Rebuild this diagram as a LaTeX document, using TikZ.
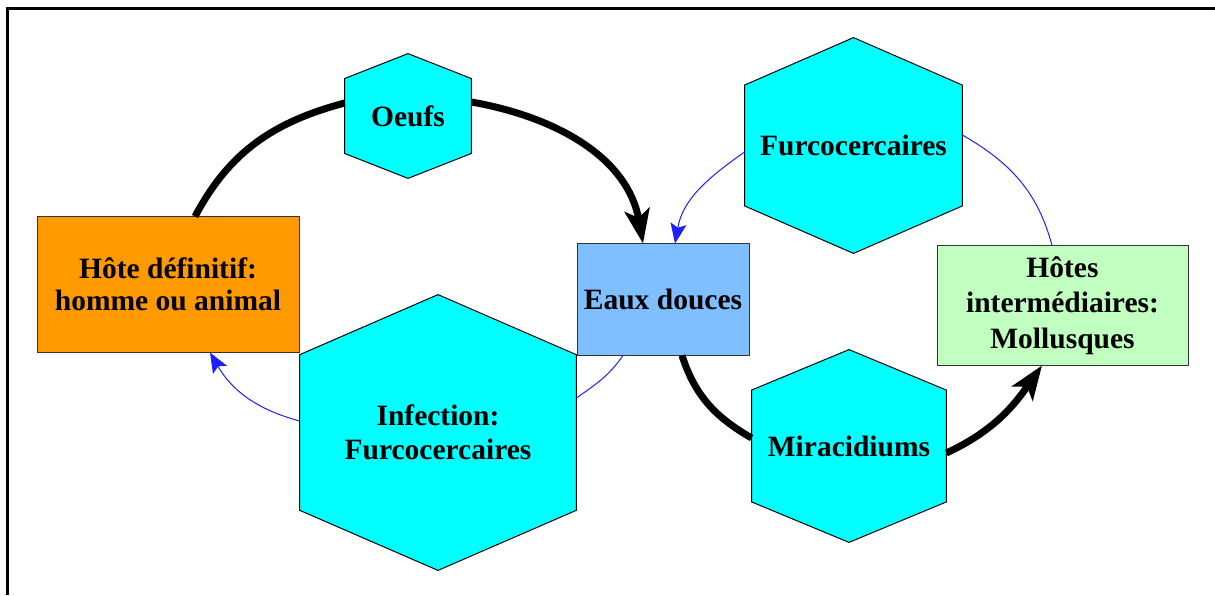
\documentclass[tikz,border=0pt]{standalone}
\usepackage{fontspec}
\setmainfont{Liberation Serif}
\usetikzlibrary{calc}
\usetikzlibrary{arrows.meta}
\usetikzlibrary{backgrounds}

\definecolor{hexcyan}{RGB}{0,255,255}
\definecolor{hoteorange}{RGB}{255,153,0}
\definecolor{eauxblue}{RGB}{128,191,255}
\definecolor{molgreen}{RGB}{192,255,192}
\definecolor{thinblue}{RGB}{30,30,255}

\newcommand\lbl{\fontsize{14.75}{17}\selectfont\bfseries}

% hexagon drawn round a (rectangular) node, #2 = height of the shoulders
\newcommand\hexborder[2]{%
  \filldraw[fill=hexcyan,draw=black,line width=0.5pt]
    (#1.north) -- ($(#1.north east)!#2!(#1.south east)$)
    -- ($(#1.south east)!#2!(#1.north east)$) -- (#1.south)
    -- ($(#1.south west)!#2!(#1.north west)$)
    -- ($(#1.north west)!#2!(#1.south west)$) -- cycle;}

\tikzset{
  box/.style={draw=black!80,line width=0.5pt,inner sep=0pt,align=center,font=\lbl},
  hexnode/.style={inner sep=0pt,align=center,font=\lbl},
  fat/.style={line width=3.5pt,black},
  fine/.style={line width=0.5pt,thinblue},
  fattip/.style={-{Stealth[length=17pt,width=12.5pt,inset=4pt]}},
  finetip/.style={-{Stealth[length=10pt,width=8pt,inset=2pt]}}
}

\begin{document}
\begin{tikzpicture}[x=0.5pt,y=0.5pt]
\useasboundingbox (0,0) rectangle (1215,595);

\def\lwframe{1.6pt}
\draw[line width=\lwframe] (7.5,0) -- (7.5,586.5) -- (1215,586.5);

% boxes
\node[box,fill=hoteorange,minimum width=131pt,minimum height=67.5pt,font=\fontsize{14.75}{16}\selectfont\bfseries] (hote) at (168,310.5) {H\^ote d\'efinitif:\\homme ou animal};
\node[box,fill=eauxblue,minimum width=86pt,minimum height=55.5pt] (eaux) at (663,295.5) {Eaux douces};
\node[box,fill=molgreen,minimum width=125.5pt,minimum height=59.5pt,font=\fontsize{14.75}{17.75}\selectfont\bfseries] (mollusques) at (1062.5,289.5) {H\^otes\\interm\'ediaires:\\Mollusques};

% hexagons
\node[hexnode,minimum width=63pt,minimum height=62pt] (oeufs) at (408,479) {Oeufs};
\node[hexnode,minimum width=138pt,minimum height=137.5pt] (infection) at (438,162.5) {Infection:\\Furcocercaires};
\node[hexnode,minimum width=108.5pt,minimum height=107.5pt] (furco) at (853.5,449.5) {Furcocercaires};
\node[hexnode,minimum width=97pt,minimum height=96pt] (miracidiums) at (849,149) {Miracidiums};

\begin{scope}[on background layer]
\hexborder{oeufs}{0.2}
\hexborder{infection}{0.218}
\hexborder{furco}{0.22}
\hexborder{miracidiums}{0.21}
\end{scope}

% left cycle
\draw[fat] ([xshift=13.5pt]hote.north) to[out=62,in=195] ([yshift=6.5pt]oeufs.west);
\draw[fat,fattip] ([yshift=7pt]oeufs.east) to[out=-10,in=100] ([xshift=-10pt]eaux.north);
\draw[fine] ([xshift=-20pt]eaux.south) to[out=235,in=35] ([yshift=17.25pt]infection.east);
\draw[fine,finetip] ([yshift=5.75pt]infection.west) to[out=165,in=-60] ([xshift=21pt]hote.south);

% right cycle
\draw[fat] ([xshift=9.5pt]eaux.south) to[out=-72,in=150] ([yshift=4pt]miracidiums.west);
\draw[fat,fattip] ([yshift=-3.5pt]miracidiums.east) to[out=25,in=235] ([xshift=-10.25pt]mollusques.south);
\draw[fine] ([xshift=-5.25pt]mollusques.north) to[out=105,in=-30] ([yshift=5.25pt]furco.east);
\draw[fine,finetip] ([yshift=-3.25pt]furco.west) to[out=215,in=80] ([xshift=6pt]eaux.north);

\end{tikzpicture}
\end{document}
